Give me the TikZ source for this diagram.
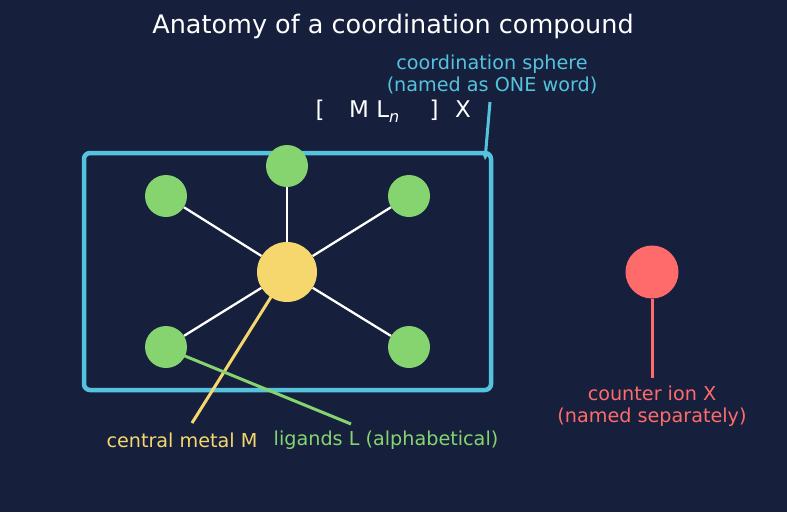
\documentclass[tikz,border=0pt]{standalone}
\usepackage{fontspec}
\setmainfont{DejaVu Sans}
\usetikzlibrary{arrows.meta}
\definecolor{bg}{HTML}{16203D}
\definecolor{sphere}{HTML}{56C3DE}
\definecolor{metal}{HTML}{F5D76E}
\definecolor{lig}{HTML}{85D46F}
\definecolor{ion}{HTML}{FF6B6B}
\tikzset{
  lbl/.style={font=\fontsize{19.2}{22}\selectfont, inner sep=0pt},
  ligand/.style={circle, fill=lig, minimum size=42pt, inner sep=0pt},
  bond/.style={white, line width=2.3pt},
}
\begin{document}
\begin{tikzpicture}[x=1pt,y=-1pt]
\fill[bg] (0,0) rectangle (787,512);
\useasboundingbox (0,0) rectangle (787,512);

\node[lbl, white, font=\fontsize{25.5}{28}\selectfont] (title) at (393,26) {Anatomy of a coordination compound};

% formula
\node[white, inner sep=0pt, anchor=base, font=\fontsize{23}{26}\selectfont] (lb) at (320,117) {[};
\node[white, inner sep=0pt, anchor=base west, font=\fontsize{23}{26}\selectfont] (ml) at (349,117) {M L\raisebox{-0.22em}{\fontsize{16}{18}\selectfont\itshape n}};
\node[white, inner sep=0pt, anchor=base, font=\fontsize{23}{26}\selectfont] (rb) at (434,117) {]};
\node[white, inner sep=0pt, anchor=base, font=\fontsize{23}{26}\selectfont] (xx) at (463,117) {X};

\node[lbl, sphere, align=center] (cs) at (492,74) {coordination sphere\\(named as ONE word)};

% box
\draw[sphere, line width=4.5pt, rounded corners=6pt] (84,153) rectangle (491,390);
\coordinate (as) at (490,102);
\coordinate (ae) at (485,160);
\draw[sphere, line width=3pt, -{Stealth[length=7pt,width=7pt]}] (as) -- (ae);

% ligands
\node[ligand] (l1) at (166,196) {};
\node[ligand] (l2) at (287,166) {};
\node[ligand] (l3) at (409,196) {};
\node[ligand] (l4) at (166,347) {};
\node[ligand] (l5) at (409,347) {};
\node[circle, fill=metal, minimum size=60pt, inner sep=0pt] (m) at (287,272) {};
\foreach \l in {l1,l2,l3,l4,l5}{
  \draw[bond] (m) -- (\l);
}

% callouts
\coordinate (ms) at (271,297);
\coordinate (me) at (192,423);
\draw[metal, line width=3pt] (ms) -- (me);
\coordinate (ls) at (180,354);
\coordinate (le) at (351,424);
\draw[lig, line width=3pt] (ls) -- (le);
\node[lbl, metal] (cm) at (182,440) {central metal M};
\node[lbl, lig] (ll) at (386,440) {ligands L (alphabetical)};

% counter ion
\node[circle, fill=ion, minimum size=53pt, inner sep=0pt] (ci) at (652,272) {};
\coordinate (ce) at (652,378);
\draw[ion, line width=3pt] (ci) -- (ce);
\node[lbl, ion, align=center] (cl) at (652,406) {counter ion X\\(named separately)};
\end{tikzpicture}
\end{document}
